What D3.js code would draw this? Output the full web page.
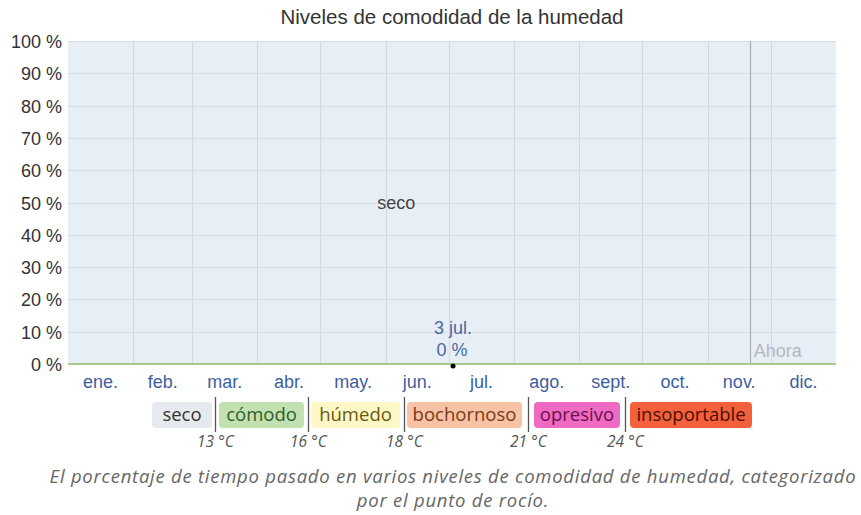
<!DOCTYPE html>
<html>
<head>
<meta charset="utf-8" />
<title>Niveles de comodidad de la humedad</title>
<style>
html, body { margin: 0; padding: 0; background: #fff; }
#chart { width: 861px; height: 515px; }
</style>
</head>
<body>
<div id="chart"></div>
<script src="https://cdn.jsdelivr.net/npm/d3@7"></script>
<script>
// data
var months = ["ene.", "feb.", "mar.", "abr.", "may.", "jun.", "jul.", "ago.", "sept.", "oct.", "nov.", "dic."];
var monthStart = [0, 1, 2, 3, 4, 5, 6, 7, 8, 9, 10, 11, 12];   // month index, 12 = next january
var dryPct = [100, 100, 100, 100, 100, 100, 100, 100, 100, 100, 100, 100, 100];
var comfortPct = [0, 0, 0, 0, 0, 0, 0, 0, 0, 0, 0, 0, 0];
var yTicks = [0, 10, 20, 30, 40, 50, 60, 70, 80, 90, 100];
var levels = ["seco", "cómodo", "húmedo", "bochornoso", "opresivo", "insoportable"];
var levelColors = ["#e6eaee", "#c2e0b0", "#fdf8c6", "#f8c3a4", "#ef6ac2", "#f4603c"];
var levelText = ["#333", "#2e5e2a", "#6b5a10", "#7a3a1a", "#6a0f4a", "#4a0f00"];
var thresholds = ["13 °C", "16 °C", "18 °C", "21 °C", "24 °C"];
var markDate = [6, 3];   // 3 jul.
var markValue = 0;
var nowDate = [10, 21];  // Ahora

var margin = {top: 41, left: 68, right: 25, bottom: 151}
var width = 861, height = 515
var sans = "Liberation Sans, Arial, sans-serif"

var svg = d3.select("#chart").append("svg").attr("width", width).attr("height", height)

var x = d3.scaleTime()
    .domain([new Date(2023, 0, 1), new Date(2024, 0, 1)])
    .range([margin.left, width - margin.right])
var y = d3.scaleLinear().domain([0, 100]).range([height - margin.bottom, margin.top])

var dates = monthStart.map(function(m) { return new Date(2023, m, 1) })

// title
svg.append("text")
    .attr("x", 452).attr("y", 24)
    .attr("text-anchor", "middle")
    .attr("font-family", sans)
    .attr("font-size", "20.5px")
    .attr("fill", "#333")
    .text("Niveles de comodidad de la humedad")

// dry area
var area = d3.area()
    .x(function(d, i) { return x(dates[i]) })
    .y0(function(d, i) { return y(comfortPct[i]) })
    .y1(function(d) { return y(d) })
svg.append("path").datum(dryPct).attr("d", area).attr("fill", "#e8eef5")

// grid
svg.append("g").selectAll("line").data(yTicks.slice(1)).enter().append("line")
    .attr("x1", x.range()[0]).attr("x2", x.range()[1])
    .attr("y1", function(d) { return Math.round(y(d)) + 0.5 }).attr("y2", function(d) { return Math.round(y(d)) + 0.5 })
    .attr("stroke", "#d6dde6").attr("stroke-width", 1)
svg.append("g").selectAll("line").data(dates.slice(1, 12)).enter().append("line")
    .attr("x1", function(d) { return Math.round(x(d)) + 0.5 }).attr("x2", function(d) { return Math.round(x(d)) + 0.5 })
    .attr("y1", y(100)).attr("y2", y(0))
    .attr("stroke", "#d2d9e1").attr("stroke-width", 1)

// now line
var now = new Date(2023, nowDate[0], nowDate[1])
svg.append("line")
    .attr("x1", Math.round(x(now)) + 0.5).attr("x2", Math.round(x(now)) + 0.5)
    .attr("y1", y(100)).attr("y2", y(0))
    .attr("stroke", "#a8aeb5").attr("stroke-width", 1.2)
svg.append("text")
    .attr("x", x(now) + 4).attr("y", y(0) - 7)
    .attr("font-family", sans)
    .attr("font-size", "18px").attr("fill", "#b4b9be")
    .text("Ahora")

// comfortable line (zero)
var line = d3.line()
    .x(function(d, i) { return x(dates[i]) })
    .y(function(d) { return y(d) })
svg.append("path").datum(comfortPct).attr("d", line)
    .attr("fill", "none").attr("stroke", "#a9c98a").attr("stroke-width", 2)

// seco label
svg.append("text")
    .attr("x", x(new Date(2023, 5, 6))).attr("y", y(50) + 6)
    .attr("text-anchor", "middle")
    .attr("font-family", sans)
    .attr("font-size", "18px").attr("fill", "#444")
    .text("seco")

// y axis labels
svg.append("g").selectAll("text").data(yTicks).enter().append("text")
    .attr("x", 62).attr("y", function(d) { return y(d) + 7 })
    .attr("text-anchor", "end")
    .attr("font-family", sans)
    .attr("font-size", "18px").attr("fill", "#333")
    .text(function(d) { return d + " %" })

// month labels
svg.append("g").selectAll("text").data(months).enter().append("text")
    .attr("x", function(d, i) { return (x(dates[i]) + x(dates[i + 1])) / 2 })
    .attr("y", 388)
    .attr("text-anchor", "middle")
    .attr("font-family", sans)
    .attr("font-size", "18px").attr("fill", "#3d5f9e")
    .text(function(d) { return d })

// marker
var md = new Date(2023, markDate[0], markDate[1])
svg.append("circle").attr("cx", x(md)).attr("cy", y(markValue) + 2).attr("r", 2.5).attr("fill", "#000")
svg.append("text")
    .attr("x", x(md)).attr("y", y(markValue) - 30)
    .attr("text-anchor", "middle")
    .attr("font-family", sans)
    .attr("font-size", "18px").attr("fill", "#4a6aa0")
    .text(markDate[1] + " " + months[markDate[0]])
svg.append("text")
    .attr("x", x(md) - 1).attr("y", y(markValue) - 8)
    .attr("text-anchor", "middle")
    .attr("font-family", sans)
    .attr("font-size", "18px").attr("fill", "#4a6aa0")
    .text(markValue + " %")

// legend
var legendX = [152, 219, 311, 407, 534, 630]
var legendW = [60, 85, 89, 115, 86, 122]
var sepX = [215.5, 308.5, 404.5, 528.5, 625.5]
var leg = svg.append("g")
leg.selectAll("rect").data(levels).enter().append("rect")
    .attr("x", function(d, i) { return legendX[i] }).attr("y", 402)
    .attr("width", function(d, i) { return legendW[i] }).attr("height", 26)
    .attr("rx", 4)
    .attr("fill", function(d, i) { return levelColors[i] })
leg.selectAll("text").data(levels).enter().append("text")
    .attr("x", function(d, i) { return legendX[i] + legendW[i] / 2 }).attr("y", 421)
    .attr("text-anchor", "middle")
    .attr("font-family", "Open Sans, sans-serif")
    .attr("font-size", "18.5px")
    .attr("fill", function(d, i) { return levelText[i] })
    .text(function(d) { return d })
leg.selectAll("line").data(sepX).enter().append("line")
    .attr("x1", function(d) { return d }).attr("x2", function(d) { return d })
    .attr("y1", 397).attr("y2", 432)
    .attr("stroke", "#555").attr("stroke-width", 1.3)
leg.selectAll("text.t").data(thresholds).enter().append("text")
    .attr("class", "t")
    .attr("x", function(d, i) { return sepX[i] }).attr("y", 447)
    .attr("text-anchor", "middle")
    .attr("font-family", "Open Sans, sans-serif")
    .attr("font-style", "italic")
    .attr("font-size", "15.5px").attr("fill", "#555")
    .text(function(d) { return d })

// caption
var caption = ["El porcentaje de tiempo pasado en varios niveles de comodidad de humedad, categorizado",
               "por el punto de rocío."]
svg.append("g").selectAll("text").data(caption).enter().append("text")
    .attr("x", 453).attr("y", function(d, i) { return 483 + i * 24 })
    .attr("text-anchor", "middle")
    .attr("font-family", "Open Sans, sans-serif")
    .attr("font-style", "italic")
    .attr("font-size", "18.5px").attr("letter-spacing", "0.75px").attr("fill", "#666")
    .text(function(d) { return d })
</script>
</body>
</html>
